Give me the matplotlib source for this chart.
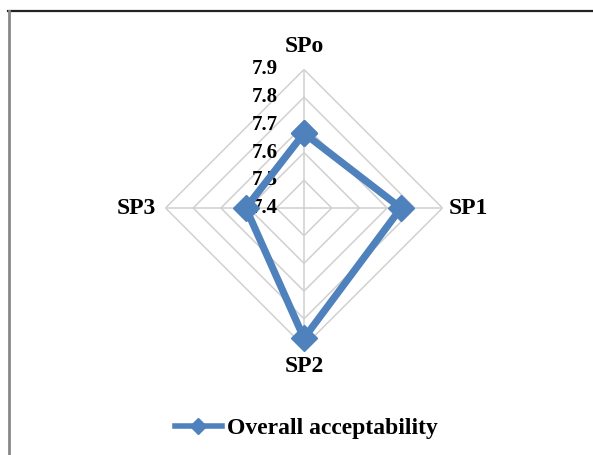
import numpy as np
import matplotlib
matplotlib.use("Agg")
import matplotlib.pyplot as plt
from matplotlib.lines import Line2D

categories = ["SPo", "SP1", "SP2", "SP3"]
values = [7.67, 7.75, 7.87, 7.61]
series_name = "Overall acceptability"
r_ticks = [7.4, 7.5, 7.6, 7.7, 7.8, 7.9]
r_tick_labels = ["7.4", "7.5", "7.6", "7.7", "7.8", "7.9"]

W, H = 593, 455
fig = plt.figure(figsize=(W / 100, H / 100), dpi=100)
fig.patch.set_facecolor("white")

cx, cy, rad = 304, 208, 138.5
ax = fig.add_axes([(cx - rad) / W, 1 - (cy + rad) / H, 2 * rad / W, 2 * rad / H],
                  projection="polar")
ax.set_theta_zero_location("N")
ax.set_theta_direction(-1)
ax.set_ylim(r_ticks[0], r_ticks[-1])
ax.grid(False)
ax.spines["polar"].set_visible(False)
ax.set_xticks([])
ax.set_yticks([])
ax.patch.set_alpha(0)

n = len(categories)
angles = np.linspace(0, 2 * np.pi, n, endpoint=False)
ang_closed = np.concatenate([angles, angles[:1]])

grid_color = "#d0d0d0"
for r in r_ticks[1:]:
    ax.plot(ang_closed, [r] * (n + 1), color=grid_color, lw=1.1, zorder=1)
for a in angles:
    ax.plot([a, a], [r_ticks[0], r_ticks[-1]], color=grid_color, lw=1.1, zorder=1)

vals_closed = values + values[:1]
ax.plot(ang_closed, vals_closed, color="#4f81bd", lw=5.2, marker="D",
        markersize=13, zorder=3, solid_joinstyle="miter", clip_on=False)

serif = ["Liberation Serif", "DejaVu Serif"]
for r, lab in zip(r_ticks, r_tick_labels):
    ax.annotate(lab, xy=(0, r), xytext=(-26, 0), textcoords="offset pixels",
                ha="right", va="center", fontsize=15, fontweight="bold", family=serif,
                annotation_clip=False, zorder=2)

label_offsets = [(0, 13, "center", "bottom"), (6, 0, "left", "center"),
                 (0, -10, "center", "top"), (-10, 0, "right", "center")]
for a, lab, (dx, dy, ha, va) in zip(angles, categories, label_offsets):
    ax.annotate(lab, xy=(a, r_ticks[-1]), xytext=(dx, dy), textcoords="offset pixels",
                ha=ha, va=va, fontsize=17, fontweight="bold", family=serif,
                annotation_clip=False)

handle = Line2D([], [], color="#4f81bd", lw=4, marker="D", markersize=8)
fig.legend([handle], [series_name], loc="center", bbox_to_anchor=(306 / W, 1 - 428 / H),
           frameon=False, prop={"family": serif, "size": 17, "weight": "bold"},
           handlelength=2.0, handletextpad=0.2)

fig.add_artist(Line2D([8 / W, 1], [1 - 11 / H, 1 - 11 / H], transform=fig.transFigure,
                      color="#222222", lw=1.6))
fig.add_artist(Line2D([9 / W, 9 / W], [1 - 11 / H, 0], transform=fig.transFigure,
                      color="#888888", lw=2))

fig.savefig("out.png", dpi=100, facecolor="white")
